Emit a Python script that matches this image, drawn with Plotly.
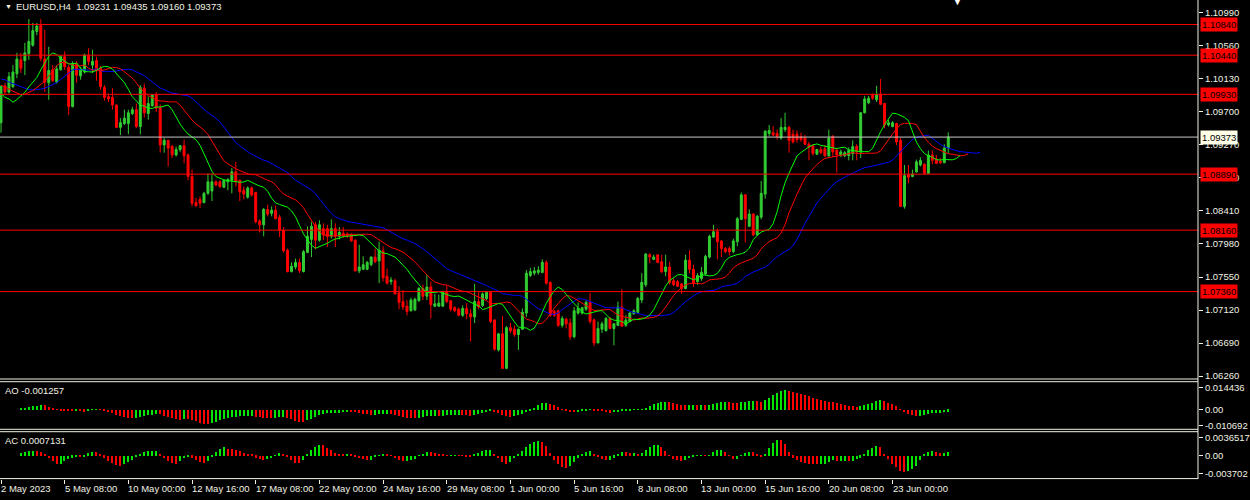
import plotly.graph_objects as go
import pandas as pd

# ---------------- data (EURUSD H4 candles) ----------------
opens = [1.0956,1.1004,1.0996,1.1003,1.1020,1.1038,1.1037,1.1046,1.1057,1.1075,
1.1083,1.1039,1.1008,1.1025,1.1009,1.1025,1.1042,1.1028,1.0977,1.1033,
1.1017,1.1022,1.1044,1.1031,1.1037,1.1027,1.1002,1.0990,1.0989,1.0979,
1.0950,1.0955,1.0955,1.0968,1.0973,1.0951,1.1001,1.0968,1.0978,1.0992,
1.0976,1.0927,1.0933,1.0925,1.0914,1.0921,1.0926,1.0914,1.0886,1.0852,
1.0856,1.0852,1.0864,1.0867,1.0879,1.0879,1.0872,1.0879,1.0881,1.0892,
1.0881,1.0868,1.0859,1.0871,1.0865,1.0828,1.0823,1.0843,1.0838,1.0842,
1.0833,1.0816,1.0790,1.0762,1.0768,1.0774,1.0762,1.0787,1.0804,1.0823,
1.0803,1.0818,1.0818,1.0808,1.0818,1.0808,1.0812,1.0811,1.0810,1.0803,
1.0763,1.0765,1.0765,1.0771,1.0781,1.0776,1.0789,1.0756,1.0749,1.0750,
1.0734,1.0723,1.0717,1.0711,1.0712,1.0724,1.0740,1.0730,1.0742,1.0717,
1.0717,1.0717,1.0736,1.0724,1.0715,1.0713,1.0705,1.0714,1.0707,1.0703,
1.0723,1.0718,1.0727,1.0735,1.0699,1.0660,1.0681,1.0636,1.0689,1.0687,
1.0680,1.0687,1.0708,1.0757,1.0760,1.0761,1.0761,1.0774,1.0748,1.0710,
1.0711,1.0692,1.0700,1.0695,1.0677,1.0708,1.0708,1.0713,1.0722,1.0699,
1.0669,1.0687,1.0685,1.0701,1.0688,1.0692,1.0716,1.0692,1.0697,1.0707,
1.0709,1.0725,1.0745,1.0784,1.0778,1.0784,1.0775,1.0762,1.0768,1.0750,
1.0749,1.0746,1.0740,1.0777,1.0765,1.0749,1.0753,1.0759,1.0781,1.0807,
1.0814,1.0802,1.0792,1.0792,1.0788,1.0801,1.0830,1.0862,1.0821,1.0837,
1.0810,1.0833,1.0863,1.0942,1.0943,1.0942,1.0936,1.0947,1.0950,1.0941,
1.0941,1.0938,1.0936,1.0928,1.0926,1.0915,1.0921,1.0922,1.0913,1.0938,
1.0920,1.0914,1.0913,1.0913,1.0916,1.0925,1.0918,1.0969,1.0982,1.0992,
1.0986,1.0993,1.0981,1.0953,1.0951,1.0955,1.0933,1.0847,1.0888,1.0886,
1.0892,1.0901,1.0902,1.0890,1.0914,1.0909,1.0906,1.0904,1.09231]
highs = [1.1005,1.1008,1.1022,1.1031,1.1047,1.1047,1.1060,1.1091,1.1086,1.1086,
1.1091,1.1077,1.1055,1.1031,1.1031,1.1044,1.1049,1.1031,1.1036,1.1036,
1.1029,1.1046,1.1053,1.1051,1.1042,1.1030,1.1005,1.0994,1.1001,1.0980,
1.0962,1.0973,1.0973,1.0977,1.0981,1.1005,1.1007,1.0990,1.0993,1.0996,
1.0980,1.0936,1.0934,1.0927,1.0925,1.0927,1.0934,1.0916,1.0895,1.0858,
1.0860,1.0866,1.0890,1.0890,1.0881,1.0881,1.0882,1.0884,1.0897,1.0905,
1.0882,1.0873,1.0873,1.0873,1.0866,1.0830,1.0845,1.0849,1.0847,1.0848,
1.0836,1.0820,1.0792,1.0774,1.0779,1.0779,1.0790,1.0821,1.0827,1.0827,
1.0829,1.0825,1.0823,1.0830,1.0825,1.0820,1.0820,1.0813,1.0812,1.0804,
1.0797,1.0782,1.0776,1.0782,1.0792,1.0801,1.0795,1.0766,1.0755,1.0753,
1.0743,1.0738,1.0725,1.0728,1.0728,1.0742,1.0745,1.0758,1.0749,1.0733,
1.0732,1.0737,1.0744,1.0725,1.0717,1.0715,1.0718,1.0721,1.0713,1.0746,
1.0735,1.0735,1.0736,1.0736,1.0700,1.0682,1.0704,1.0691,1.0695,1.0692,
1.0688,1.0714,1.0764,1.0767,1.0768,1.0769,1.0778,1.0777,1.0749,1.0712,
1.0712,1.0704,1.0702,1.0701,1.0716,1.0722,1.0716,1.0725,1.0734,1.0701,
1.0697,1.0697,1.0703,1.0703,1.0695,1.0723,1.0739,1.0705,1.0710,1.0713,
1.0729,1.0760,1.0786,1.0786,1.0784,1.0784,1.0784,1.0784,1.0775,1.0753,
1.0751,1.0747,1.0784,1.0790,1.0771,1.0760,1.0768,1.0784,1.0810,1.0823,
1.0818,1.0803,1.0794,1.0795,1.0805,1.0833,1.0865,1.0863,1.0843,1.0838,
1.0836,1.0880,1.0946,1.0953,1.0952,1.0947,1.0962,1.0969,1.0952,1.0947,
1.0946,1.0943,1.0940,1.0931,1.0928,1.0922,1.0925,1.0927,1.0947,1.0940,
1.0923,1.0921,1.0919,1.0924,1.0933,1.0928,1.0970,1.0991,1.0991,1.0994,
1.1004,1.1013,1.0982,1.0960,1.0958,1.0956,1.0936,1.0901,1.0901,1.0895,
1.0908,1.0911,1.0903,1.0920,1.0920,1.0914,1.0910,1.0928,1.09435]
lows = [1.0943,1.0992,1.0994,1.1001,1.1014,1.1021,1.1018,1.1038,1.1055,1.1070,
1.1036,1.0996,1.0986,1.1009,1.1007,1.1024,1.1025,1.0966,1.0976,1.1008,
1.1012,1.1020,1.1031,1.1021,1.1011,1.0999,1.0985,1.0983,1.0973,1.0949,
1.0940,1.0953,1.0941,1.0966,1.0949,1.0941,1.0963,1.0960,1.0977,1.0970,
1.0917,1.0917,1.0899,1.0910,1.0912,1.0918,1.0903,1.0881,1.0847,1.0846,
1.0845,1.0851,1.0862,1.0854,1.0873,1.0871,1.0871,1.0868,1.0864,1.0873,
1.0854,1.0856,1.0857,1.0860,1.0825,1.0813,1.0808,1.0834,1.0834,1.0830,
1.0807,1.0787,1.0761,1.0761,1.0765,1.0760,1.0761,1.0786,1.0781,1.0791,
1.0801,1.0803,1.0794,1.0805,1.0794,1.0804,1.0806,1.0806,1.0801,1.0762,
1.0760,1.0764,1.0764,1.0769,1.0773,1.0747,1.0749,1.0745,1.0745,1.0732,
1.0713,1.0712,1.0705,1.0710,1.0711,1.0723,1.0725,1.0725,1.0701,1.0716,
1.0716,1.0716,1.0721,1.0710,1.0709,1.0704,1.0703,1.0700,1.0671,1.0695,
1.0713,1.0716,1.0725,1.0695,1.0659,1.0658,1.0635,1.0635,1.0682,1.0677,
1.0660,1.0686,1.0703,1.0755,1.0757,1.0758,1.0760,1.0745,1.0703,1.0703,
1.0690,1.0689,1.0688,1.0673,1.0675,1.0706,1.0706,1.0711,1.0694,1.0665,
1.0669,1.0682,1.0684,1.0687,1.0666,1.0691,1.0690,1.0690,1.0696,1.0706,
1.0708,1.0721,1.0742,1.0773,1.0777,1.0773,1.0760,1.0756,1.0745,1.0743,
1.0742,1.0733,1.0739,1.0760,1.0742,1.0745,1.0750,1.0757,1.0779,1.0806,
1.0778,1.0781,1.0786,1.0783,1.0786,1.0795,1.0830,1.0800,1.0820,1.0808,
1.0809,1.0830,1.0857,1.0938,1.0938,1.0934,1.0934,1.0944,1.0917,1.0929,
1.0930,1.0931,1.0927,1.0907,1.0913,1.0914,1.0915,1.0911,1.0911,1.0911,
1.0891,1.0911,1.0911,1.0907,1.0907,1.0907,1.0910,1.0968,1.0980,1.0986,
1.0983,1.0979,1.0949,1.0951,1.0950,1.0927,1.0847,1.0844,1.0877,1.0885,
1.0891,1.0899,1.0888,1.0890,1.0902,1.0902,1.0902,1.0903,1.09160]
closes = [1.1003,1.0996,1.1016,1.1022,1.1039,1.1027,1.1047,1.1062,1.1076,1.1082,
1.1040,1.1009,1.1024,1.1011,1.1026,1.1042,1.1029,1.0977,1.1033,1.1018,
1.1026,1.1044,1.1036,1.1036,1.1025,1.1003,1.0989,1.0987,1.0979,1.0950,
1.0956,1.0962,1.0969,1.0973,1.0951,1.1002,1.0969,1.0981,1.0992,1.0975,
1.0927,1.0933,1.0923,1.0914,1.0921,1.0926,1.0913,1.0886,1.0851,1.0848,
1.0851,1.0864,1.0879,1.0879,1.0875,1.0873,1.0881,1.0882,1.0892,1.0879,
1.0866,1.0863,1.0871,1.0862,1.0827,1.0823,1.0843,1.0837,1.0842,1.0831,
1.0816,1.0789,1.0762,1.0769,1.0774,1.0763,1.0788,1.0808,1.0821,1.0803,
1.0823,1.0810,1.0808,1.0818,1.0808,1.0813,1.0808,1.0808,1.0802,1.0763,
1.0768,1.0771,1.0774,1.0781,1.0775,1.0790,1.0754,1.0747,1.0751,1.0733,
1.0722,1.0716,1.0710,1.0725,1.0726,1.0740,1.0730,1.0742,1.0719,1.0720,
1.0721,1.0736,1.0723,1.0713,1.0711,1.0705,1.0714,1.0707,1.0703,1.0723,
1.0716,1.0733,1.0735,1.0697,1.0661,1.0681,1.0636,1.0689,1.0685,1.0680,
1.0687,1.0709,1.0760,1.0762,1.0763,1.0764,1.0774,1.0747,1.0705,1.0705,
1.0692,1.0701,1.0694,1.0677,1.0711,1.0714,1.0715,1.0722,1.0697,1.0669,
1.0688,1.0694,1.0701,1.0688,1.0694,1.0716,1.0691,1.0699,1.0708,1.0711,
1.0727,1.0748,1.0785,1.0781,1.0781,1.0774,1.0762,1.0768,1.0748,1.0745,
1.0743,1.0740,1.0777,1.0765,1.0747,1.0757,1.0761,1.0782,1.0808,1.0814,
1.0801,1.0792,1.0788,1.0788,1.0802,1.0831,1.0862,1.0831,1.0837,1.0810,
1.0834,1.0864,1.0945,1.0946,1.0940,1.0938,1.0950,1.0950,1.0933,1.0931,
1.0934,1.0934,1.0928,1.0924,1.0916,1.0921,1.0917,1.0913,1.0936,1.0918,
1.0914,1.0918,1.0917,1.0920,1.0925,1.0918,1.0969,1.0987,1.0988,1.0988,
1.0993,1.0980,1.0953,1.0956,1.0956,1.0931,1.0847,1.0887,1.0885,1.0889,
1.0905,1.0907,1.0890,1.0914,1.0907,1.0903,1.0904,1.0923,1.09373]

# Alligator lines before the first computed point and seeds
jaw_head = [1.1013, 1.1012, 1.1009, 1.1007, 1.1004, 1.1002, 1.1000, 1.0999]
teeth_head = [1.1005, 1.1003, 1.1000, 1.0997, 1.0995]
lips_head = [1.0995, 1.0989, 1.0987]
jaw_seed, teeth_seed, lips_seed = 1.1001, 1.0995, 1.0985

# horizontal levels
level_lines = [1.10840, 1.10440, 1.09930, 1.08890, 1.08160, 1.07360]
current_price = 1.09373

price_ticks = [1.10990, 1.10560, 1.10130, 1.09700, 1.09270, 1.08840,
               1.08410, 1.07980, 1.07550, 1.07120, 1.06690, 1.06260]
time_labels = ["2 May 2023", "5 May 08:00", "10 May 00:00", "12 May 16:00", "17 May 08:00",
               "22 May 00:00", "24 May 16:00", "29 May 08:00", "1 Jun 00:00", "5 Jun 16:00",
               "8 Jun 08:00", "13 Jun 00:00", "15 Jun 16:00", "20 Jun 08:00", "23 Jun 00:00"]
time_label_bars = [16 * k for k in range(len(time_labels))]

ao_ticks = [0.014436, 0.0, -0.010692]
ac_ticks = [0.0036517, 0.0, -0.003702]
title_text = "EURUSD,H4  1.09231 1.09435 1.09160 1.09373"
ao_text = "AO -0.001257"
ac_text = "AC 0.0007131"

# ---------------- indicators derived from the candles ----------------
N = len(closes)
bars = list(range(N))
median = [(h + l) / 2 for h, l in zip(highs, lows)]


def smma(values, n, seed):
    out, prev = [], seed
    for v in values:
        prev = (prev * (n - 1) + v) / n
        out.append(prev)
    return out


jaw = jaw_head + smma(median, 13, jaw_seed)
teeth = teeth_head + smma(median, 8, teeth_seed)
lips = lips_head + smma(median, 5, lips_seed)
jaw_x = list(range(8)) + [i + 8 for i in bars]
teeth_x = list(range(5)) + [i + 5 for i in bars]
lips_x = list(range(3)) + [i + 3 for i in bars]

med = pd.Series(median)
ao = med.rolling(5, min_periods=1).mean() - med.rolling(34, min_periods=1).mean()
ac = ao - ao.rolling(5, min_periods=1).mean()


def colors(s):
    c = []
    for i, v in enumerate(s):
        c.append('#00E600' if i == 0 or v > s.iloc[i - 1] else '#FF0000')
    return c


# ---------------- figure ----------------
CREAM = '#F2F2E4'
FONT = 'Liberation Sans'
H_PLOT = 479.0


def py(px):  # paper y from pixel y (plot area top = 0)
    return (H_PLOT - px) / H_PLOT


fig = go.Figure()
fig.add_trace(go.Candlestick(
    x=bars, open=opens, high=highs, low=lows, close=closes,
    increasing=dict(line=dict(color='#32CD32', width=1), fillcolor='#32CD32'),
    decreasing=dict(line=dict(color='#FF0000', width=1), fillcolor='#FF0000'),
    whiskerwidth=0, xaxis='x', yaxis='y', hoverinfo='skip'))
fig.add_trace(go.Scatter(x=jaw_x, y=jaw, mode='lines', line=dict(color='#0000FF', width=1),
                         xaxis='x', yaxis='y', hoverinfo='skip'))
fig.add_trace(go.Scatter(x=teeth_x, y=teeth, mode='lines', line=dict(color='#FF0000', width=1),
                         xaxis='x', yaxis='y', hoverinfo='skip'))
fig.add_trace(go.Scatter(x=lips_x, y=lips, mode='lines', line=dict(color='#00FF00', width=1),
                         xaxis='x', yaxis='y', hoverinfo='skip'))
fig.add_trace(go.Bar(x=bars, y=ao, marker=dict(color=colors(ao), line=dict(width=0)),
                     width=0.35, xaxis='x2', yaxis='y2', hoverinfo='skip'))
fig.add_trace(go.Bar(x=bars, y=ac, marker=dict(color=colors(ac), line=dict(width=0)),
                     width=0.35, xaxis='x3', yaxis='y3', hoverinfo='skip'))

xr = [-0.25, 300.75]
common_x = dict(range=xr, showgrid=False, zeroline=False, showticklabels=False, showline=False,
                fixedrange=True)
common_y = dict(side='right', showgrid=False, zeroline=False, showline=False, ticks='outside',
                ticklen=4, tickcolor=CREAM, tickfont=dict(family=FONT, size=9.5, color=CREAM),
                fixedrange=True)

main_bottom = py(379)
fig.update_layout(
    width=1250, height=500,
    margin=dict(l=0, r=46, t=0, b=21),
    paper_bgcolor='#000000', plot_bgcolor='#000000',
    showlegend=False, bargap=0,
    xaxis=dict(domain=[0, 1], anchor='y', rangeslider=dict(visible=False), **common_x),
    xaxis2=dict(domain=[0, 1], anchor='y2', matches='x', **common_x),
    xaxis3=dict(domain=[0, 1], anchor='y3', matches='x',
                **{**common_x, 'ticks': 'outside', 'ticklen': 4, 'tickcolor': CREAM,
                   'tickmode': 'array', 'tickvals': time_label_bars}),
    yaxis=dict(domain=[main_bottom, 1], anchor='x', range=[1.06221, 1.11159],
               tickmode='array', tickvals=price_ticks,
               ticktext=['%.5f' % v for v in price_ticks], **common_y),
    yaxis2=dict(domain=[py(429.3), py(381.7)], anchor='x2', range=[-0.01327, 0.0184],
                tickmode='array', tickvals=ao_ticks,
                ticktext=['0.014436', '0.00', '-0.010692'], **common_y),
    yaxis3=dict(domain=[0.0, py(431.7)], anchor='x3', range=[-0.00478, 0.00482],
                tickmode='array', tickvals=ac_ticks,
                ticktext=['0.0036517', '0.00', '-0.003702'], **common_y),
)

shapes = []
# level lines and current price line
for v in level_lines:
    shapes.append(dict(type='line', xref='paper', yref='y', x0=0, x1=1, y0=v, y1=v,
                       line=dict(color='#FF0000', width=1)))
shapes.append(dict(type='line', xref='paper', yref='y', x0=0, x1=1, y0=current_price,
                   y1=current_price, line=dict(color='#C8C8C8', width=1)))
# panel borders
for yy in [py(379), py(381.7), py(429.3), py(431.7), py(478.6)]:
    shapes.append(dict(type='line', xref='paper', yref='paper', x0=0, x1=1, y0=yy, y1=yy,
                       line=dict(color=CREAM, width=1)))
shapes.append(dict(type='line', xref='paper', yref='paper', x0=1, x1=1, y0=0, y1=1,
                   line=dict(color=CREAM, width=1)))
fig.update_layout(shapes=shapes)

ann = []
for v in level_lines:
    ann.append(dict(xref='paper', yref='y', x=1, y=v, xanchor='left', yanchor='middle',
                    xshift=2, text='%.5f' % v, showarrow=False, bgcolor='#FF0000',
                    borderpad=1, font=dict(family=FONT, size=9.5, color='#000000')))
ann.append(dict(xref='paper', yref='y', x=1, y=current_price, xanchor='left', yanchor='middle',
                xshift=2, text='%.5f' % current_price, showarrow=False, bgcolor='#FFFFE8',
                borderpad=1, font=dict(family=FONT, size=9.5, color='#000000')))
for b, t in zip(time_label_bars, time_labels):
    ann.append(dict(xref='x', yref='paper', x=b, y=py(488), xanchor='left', yanchor='middle',
                    xshift=-2, text=t, showarrow=False,
                    font=dict(family=FONT, size=9.5, color=CREAM)))
ann.append(dict(xref='paper', yref='paper', x=3 / 1204, y=py(7), xanchor='left', yanchor='middle',
                text='▼', showarrow=False, font=dict(family=FONT, size=7, color=CREAM)))
ann.append(dict(xref='paper', yref='paper', x=14 / 1204, y=py(7), xanchor='left', yanchor='middle',
                text=title_text, showarrow=False, font=dict(family=FONT, size=9.5, color=CREAM)))
ann.append(dict(xref='paper', yref='paper', x=3 / 1204, y=py(390.5), xanchor='left',
                yanchor='middle', text=ao_text, showarrow=False,
                font=dict(family=FONT, size=9.5, color=CREAM)))
ann.append(dict(xref='paper', yref='paper', x=3 / 1204, y=py(440.5), xanchor='left',
                yanchor='middle', text=ac_text, showarrow=False,
                font=dict(family=FONT, size=9.5, color=CREAM)))
ann.append(dict(xref='paper', yref='paper', x=962 / 1204, y=1.0, xanchor='center',
                yanchor='middle', text='▼', showarrow=False,
                font=dict(family=FONT, size=13, color='#FFFFFF')))
fig.update_layout(annotations=ann)

fig.write_html("out.html", config={'displayModeBar': False},
               post_script="document.body.style.margin='0';document.body.style.background='#000';")
